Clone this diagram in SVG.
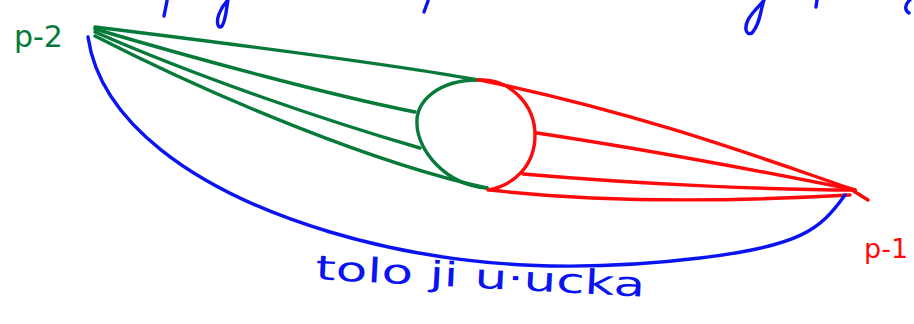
<svg xmlns="http://www.w3.org/2000/svg" width="914" height="324" viewBox="0 0 914 324">
<style>
.s{fill:none;stroke-width:3.4;stroke-linecap:round;stroke-linejoin:round}
.g{stroke:#077a3a}.r{stroke:#ff0a0a}.b{stroke:#0a14f0}
.t{font-family:"DejaVu Sans","Liberation Sans",sans-serif}
</style>
<rect width="914" height="324" fill="#fff"/>
<g id="top-strokes" class="s b">
<path d="M167,1 L164,16"/>
<path d="M228,0 C226,10 226,20 222,26 C218,30 216,22 219,14 C222,6 226,2 228,0"/>
<path d="M428,1 L424,12"/>
<path d="M764,0 C760,12 760,24 752,33 C746,36 744,28 748,20 C752,12 760,6 764,0"/>
<path d="M817,0 L816,7"/>
<path d="M910,0 C905,4 904,10 909,13"/>
</g>
<g id="connectors">
<g class="s g">
<path d="M95,27 C200,40 380,62 478,80"/>
<path d="M95,29 C200,60 330,95 415,112"/>
<path d="M95,32 C200,78 330,122 420,148"/>
<path d="M95,36 C220,100 380,165 487,188"/>
<path d="M478,80 C440,80 415,100 417,125 C418,150 445,185 487,188"/>
</g>
<g class="s r">
<path d="M478,80 C510,78 535,105 535,135 C535,165 515,185 488,190"/>
<path d="M480,80 C650,115 780,165 855,190"/>
<path d="M537,133 C650,150 780,175 855,190"/>
<path d="M523,174 C650,185 780,190 855,190"/>
<path d="M490,190 C620,205 760,200 850,195"/>
<path d="M852,190 L868,200"/>
</g>
<g class="s b">
<path d="M88,37 C100,120 190,190 330,232 S600,270 700,258 S820,230 845,195"/>
</g>
</g>
<g id="p2"><text class="t" x="14" y="47" font-size="30" fill="#077a3a">p-2</text></g>
<g id="p1"><text class="t" x="864" y="258" font-size="27" fill="#ff0a0a">p-1</text></g>
<g id="caption"><text class="t" x="315" y="288" font-size="34" fill="#0a14f0" textLength="330" lengthAdjust="spacingAndGlyphs" transform="rotate(3 480 285)">tolo ji u·ucka</text></g>
</svg>
